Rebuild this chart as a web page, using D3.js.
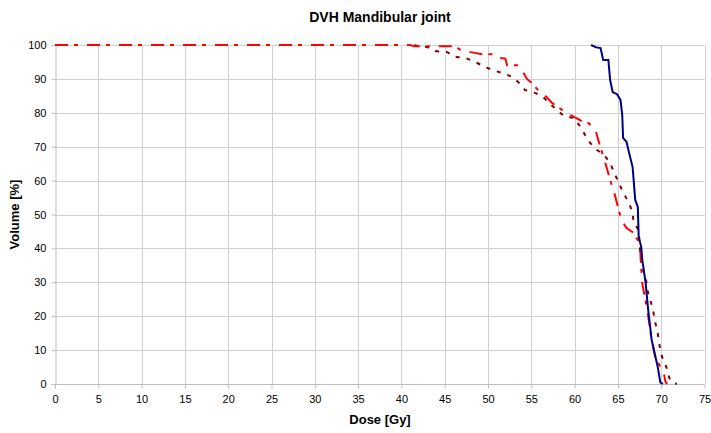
<!DOCTYPE html>
<html>
<head>
<meta charset="utf-8">
<script src="https://cdn.jsdelivr.net/npm/d3@7"></script>
<style>
  html, body { margin: 0; padding: 0; background: #fff; }
  svg { display: block; font-family: "Liberation Sans", Arial, sans-serif; }
</style>
</head>
<body>
<svg id="chart" width="711" height="433"></svg>
<script>
// Dose-volume histogram curves: [dose Gy, volume %]
const planA = [ // red, long dash-dot
  [0,100],[41,100],[41.5,99.6],[46.2,99.6],[46.8,98.6],[48,97.9],[49.3,97.3],[50.5,97.3],
  [51.2,96.2],[52,96],[52.2,94],[53.4,94],[54,92.2],[54.5,90],[55.2,88.5],[56,86],
  [56.8,84.6],[57.4,82.9],[58.1,81.7],[58.9,80.2],[61,77.3],[61.6,77],[62.4,74.9],
  [62.8,71.4],[63.2,68.1],[63.8,63],[64.1,60.2],[64.5,57.2],[65.1,51.3],[65.4,48.4],
  [66,46],[66.7,44.8],[67.3,42.5],[67.6,38.6],[67.8,29.8],[68.4,21.8],[68.9,13],
  [69.3,8],[70.3,3.2],[70.5,0.6],[70.7,0]
];
const planB = [ // dark red, dotted (full volume below 41.5 Gy lies under the red curve)
  [41.5,100],[42.2,99.4],[43,99.4],[43.9,98.2],[45.3,97.9],[46.2,96.5],[47.4,96.2],
  [48.5,95],[49.7,93.5],[50.5,92.6],[51.7,91.7],[52.8,90.6],[53.6,88.8],[54.3,86.7],
  [55.5,85.8],[56.4,84.6],[57.2,82.5],[58.9,78.8],[59.9,78.5],[60.7,75.8],[61.2,73.5],
  [61.8,71.1],[62.6,69],[63.4,67.6],[64.1,65.2],[64.6,62.2],[65.1,59.3],[65.6,56.6],
  [66.2,53.7],[66.7,50.7],[66.8,47.8],[67.4,45.4],[67.5,41.6],[67.7,35.1],[68.2,31.6],
  [68.4,27.7],[68.8,24.2],[69.1,21.2],[69.3,18.3],[69.6,15],[69.8,11.5],[70.1,8],
  [70.6,5],[70.9,2],[71.2,0.5],[71.8,0]
];
const planC = [ // navy, solid
  [61.9,100],[62.5,99.3],[63,99.1],[63.3,95.6],[63.9,95.6],[64.1,89.7],[64.4,86.1],
  [64.9,85.5],[65.3,83.8],[65.5,79.4],[65.6,72.6],[66,71.4],[66.3,68.1],[66.7,64],
  [67,54.3],[67.3,52.2],[67.4,43.4],[67.7,40.4],[67.8,37],[68.2,29.8],[68.5,21.8],
  [68.9,13],[69.6,5],[69.9,0.5],[70.2,0]
];
const xTicks = d3.range(0, 76, 5);
const yTicks = d3.range(0, 101, 10);

const svg = d3.select("#chart");
const m = { left: 55, right: 6.5, top: 45, bottom: 49 };
const W = 711, H = 433;
const x = d3.scaleLinear().domain([0, 75]).range([m.left, W - m.right]);
const y = d3.scaleLinear().domain([0, 100]).range([H - m.bottom, m.top]);

// grid
const grid = svg.append("g").attr("stroke", "#cfcfcf").attr("stroke-width", 1);
grid.selectAll(".gx").data(xTicks.slice(1)).join("line")
  .attr("x1", d => Math.round(x(d)) + 0.5).attr("x2", d => Math.round(x(d)) + 0.5)
  .attr("y1", y(100)).attr("y2", y(0));
grid.selectAll(".gy").data(yTicks.slice(1)).join("line")
  .attr("y1", d => Math.round(y(d)) + 0.5).attr("y2", d => Math.round(y(d)) + 0.5)
  .attr("x1", x(0)).attr("x2", x(75));

// axes
const xAxis = svg.append("g").attr("transform", `translate(0,${Math.round(y(0)) + 0.5})`)
  .call(d3.axisBottom(x).tickValues(xTicks).tickSize(4).tickPadding(7));
const yAxis = svg.append("g").attr("transform", `translate(${Math.round(x(0)) + 0.5},0)`)
  .call(d3.axisLeft(y).tickValues(yTicks).tickSize(4).tickPadding(5));
[xAxis, yAxis].forEach(a => {
  a.selectAll("path, line").attr("stroke", "#bdbdbd");
  a.selectAll("text").attr("fill", "#000").style("font-size", "11px")
    .style("font-family", "'Liberation Sans', Arial, sans-serif");
});
xAxis.select(".domain").attr("d", `M${x(0)},0H${x(75)}`);

// curves
const line = d3.line().x(d => x(d[0])).y(d => y(d[1]));
svg.append("path").datum(planB).attr("d", line).attr("fill", "none")
  .attr("stroke", "#800000").attr("stroke-width", 2).attr("stroke-dasharray", "4,7");
svg.append("path").datum(planA).attr("d", line).attr("fill", "none")
  .attr("stroke", "#ff0000").attr("stroke-width", 2).attr("stroke-dasharray", "13,6,4,9");
svg.append("path").datum(planC).attr("d", line).attr("fill", "none")
  .attr("stroke", "#000080").attr("stroke-width", 2);

// titles
svg.append("text").attr("x", 380).attr("y", 22).attr("text-anchor", "middle")
  .style("font-size", "14px").style("font-weight", "bold").text("DVH Mandibular joint");
svg.append("text").attr("x", 380).attr("y", 424).attr("text-anchor", "middle")
  .style("font-size", "13px").style("font-weight", "bold").text("Dose [Gy]");
svg.append("text").attr("transform", `translate(19,${(y(0) + y(100)) / 2}) rotate(-90)`)
  .attr("text-anchor", "middle")
  .style("font-size", "13px").style("font-weight", "bold").text("Volume [%]");
</script>
</body>
</html>
